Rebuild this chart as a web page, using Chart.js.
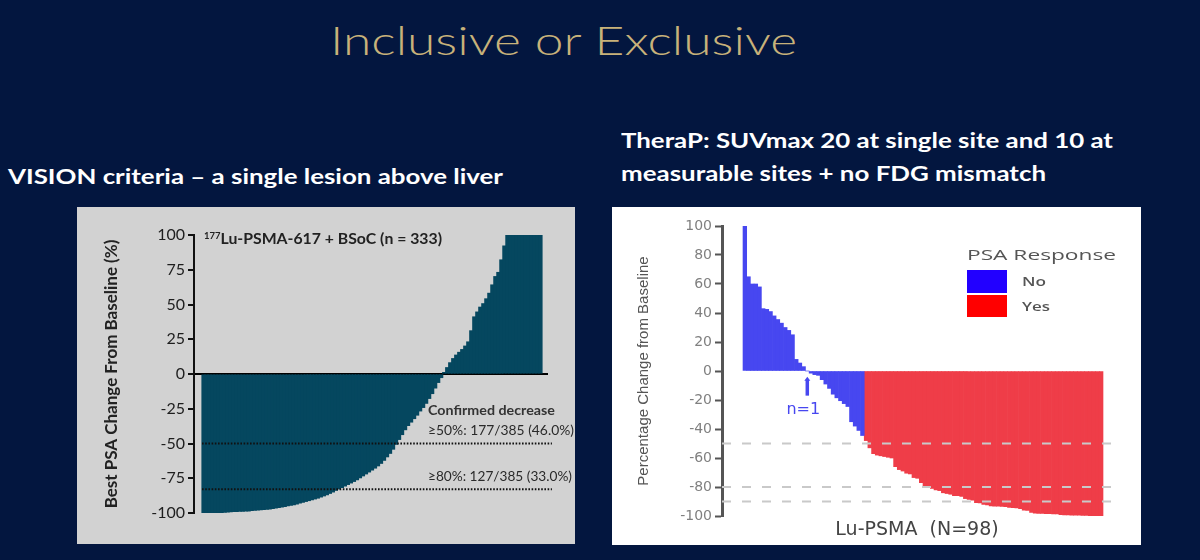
<!DOCTYPE html>
<html>
<head>
<meta charset="utf-8">
<script src="https://cdn.jsdelivr.net/npm/chart.js@4.4.0/dist/chart.umd.min.js"></script>
<style>
    html, body { margin: 0; padding: 0; }
    body { width: 1200px; height: 560px; background: #03163f; position: relative; overflow: hidden; font-family: Lato, sans-serif; }
    .txt { position: absolute; white-space: nowrap; line-height: 1; transform-origin: left center; display: inline-block; z-index: 5; }
    .panel { position: absolute; }
    canvas { position: absolute; z-index: 2; }
    #title { left: 330px; top: 20px; font-size: 40px; font-weight: 300; color: #c8b27a; }
    .sub { font-size: 21px; font-weight: bold; color: #fff; }
    .note { font-size: 14px; color: #2a2a2a; }
    .leg { font-family: "Open Sans", sans-serif; color: #555; }
    .swatch { position: absolute; z-index: 5; }
</style>
</head>
<body>

<div id="title" class="txt" data-w="467">Inclusive or Exclusive</div>
<div class="txt sub" style="left:8px; top:165px;" data-w="495">VISION criteria – a single lesion above liver</div>
<div class="txt sub" style="left:621px; top:129px;" data-w="492">TheraP: SUVmax 20 at single site and 10 at</div>
<div class="txt sub" style="left:621px; top:162px;" data-w="425">measurable sites + no FDG mismatch</div>

<!-- VISION panel -->
<div class="panel" style="left:77px; top:207px; width:498px; height:337px; background:#d2d2d2;"></div>
<canvas id="visionChart" width="498" height="337" style="left:77px; top:207px;"></canvas>
<div class="txt" style="left:204px; top:231px; font-size:15px; font-weight:bold; color:#222;" data-w="238"><sup style="font-size:9px; vertical-align:5px;">177</sup>Lu-PSMA-617 + BSoC (n = 333)</div>
<div class="txt note" style="left:428px; top:403px; font-weight:bold; color:#333;" data-w="127">Confirmed decrease</div>
<div class="txt note" style="left:428px; top:423px;" data-w="146">≥50%: 177/385 (46.0%)</div>
<div class="txt note" style="left:428px; top:469px;" data-w="144">≥80%: 127/385 (33.0%)</div>

<!-- TheraP panel -->
<div class="panel" style="left:612px; top:207px; width:529px; height:338px; background:#ffffff;"></div>
<canvas id="therapChart" width="529" height="338" style="left:612px; top:207px;"></canvas>
<div class="txt leg" style="left:967px; top:248px; font-size:14px;" data-w="149">PSA Response</div>
<div class="swatch" style="left:967px; top:270px; width:40px; height:23px; background:#2200ff;"></div>
<div class="swatch" style="left:967px; top:295px; width:40px; height:22px; background:#ff0000;"></div>
<div class="txt leg" style="left:1022px; top:275px; font-size:13px; font-weight:600;" data-w="24">No</div>
<div class="txt leg" style="left:1022px; top:300px; font-size:13px; font-weight:600;" data-w="28">Yes</div>

<script>
// VISION: best PSA change per patient, sorted (sampled along the waterfall)
const visionChange = [
    -100, -100, -99.9, -99.8, -99.7, -99.6, -99.5, -99.4, -99.2, -99,
    -98.9, -98.8, -98.7, -98.6, -98.5, -98.4, -98.2, -98, -97.8, -97.6,
    -97.4, -97.2, -97, -96.7, -96.4, -96, -95.6, -95.2, -94.8, -94.4,
    -94, -93.4, -92.8, -92.2, -91.6, -91, -90.4, -89.8, -89.2, -88.4,
    -87.6, -86.8, -85.8, -84.8, -83.6, -82.6, -81.6, -80.5, -79.4, -78.3,
    -77.2, -76, -74.6, -73.2, -71.8, -70.4, -69, -67.6, -66, -64.2,
    -62, -59.5, -57, -54, -50.5, -47, -43.5, -40, -37, -34.5,
    -32, -29.5, -26.5, -24, -21, -17.5, -14, -10, -6, -2.5,
    1, 4.5, 8, 11, 13.5, 15.5, 17.5, 20, 23, 31,
    41, 44.5, 48, 50.5, 54, 58, 64, 70, 73, 82,
    92, 100, 100, 100, 100, 100, 100, 100, 100, 100,
    100, 100, 100
];
const visionRefLines = [-50, -83];

// TheraP: percentage change, split by PSA response
const therapNo = [
    100, 65, 60, 60, 58, 43, 42.5, 41, 38, 35.5,
    33, 30, 28, 25, 8, 5.5, 3, 0, -1.5, -2.5,
    -3, -6, -9, -12, -16, -18.5, -20.5, -22.5, -24.5, -35,
    -38, -41, -44.5
];
const therapYes = [
    -48, -53, -57, -58, -58.5, -59, -59.5, -60, -66, -68,
    -69, -70.5, -71, -73.5, -74, -77, -80, -80, -81, -82,
    -82.5, -84, -84.5, -85, -86, -86, -86.5, -88, -88.5, -89,
    -90.8, -91, -92, -92.4, -93, -93.2, -93.3, -93.4, -93.6, -94,
    -94.2, -94.4, -95, -96, -96.2, -97.5, -98, -98.2, -98.3, -98.4,
    -98.4, -98.5, -98.6, -99, -99.2, -99.3, -99.4, -99.5, -99.5, -99.6,
    -99.6, -99.7, -99.8, -99.9, -100
];
const therapRefLines = [-50, -80, -90];
const therapMarkerBar = 18;   // the bar flagged "n=1"

Chart.defaults.font.family = 'Lato, sans-serif';

// Horizontal reference lines drawn on top of the bars
const refLinePlugin = {
    id: 'refLines',
    afterDatasetsDraw(chart, args, o) {
        const { ctx } = chart;
        const xs = chart.scales.x, ys = chart.scales.y;
        ctx.save();
        ctx.strokeStyle = o.color;
        ctx.lineWidth = o.width;
        ctx.setLineDash(o.dash);
        o.values.forEach(v => {
            const py = ys.getPixelForValue(v);
            ctx.beginPath();
            ctx.moveTo(xs.getPixelForValue(o.from), py);
            ctx.lineTo(xs.getPixelForValue(o.to), py);
            ctx.stroke();
        });
        ctx.restore();
    }
};

// Small arrow + "n=1" label under one bar
const markerPlugin = {
    id: 'nMarker',
    afterDatasetsDraw(chart, args, o) {
        if (!o.text) return;
        const { ctx } = chart;
        const px = chart.scales.x.getPixelForValue(o.bar);
        const y1 = chart.scales.y.getPixelForValue(o.span[0]);
        const y2 = chart.scales.y.getPixelForValue(o.span[1]);
        ctx.save();
        ctx.strokeStyle = o.color;
        ctx.fillStyle = o.color;
        ctx.lineWidth = 3.5;
        ctx.beginPath();
        ctx.moveTo(px, y1 + 3);
        ctx.lineTo(px, y2);
        ctx.stroke();
        ctx.beginPath();
        ctx.moveTo(px - 3, y1 + 4);
        ctx.lineTo(px + 3, y1 + 4);
        ctx.lineTo(px, y1);
        ctx.closePath();
        ctx.fill();
        ctx.font = '16px "DejaVu Sans", sans-serif';
        ctx.textAlign = 'center';
        ctx.textBaseline = 'middle';
        ctx.fillText(o.text, px - 4, chart.scales.y.getPixelForValue(o.textAt));
        ctx.restore();
    }
};

// VISION waterfall
const visionCtx = document.getElementById('visionChart').getContext('2d');
const visionChart = new Chart(visionCtx, {
    type: 'bar',
    data: {
        datasets: [{
            data: visionChange.map((v, i) => ({ x: i + 1, y: v })),
            backgroundColor: '#05475f',
            borderWidth: 0,
            inflateAmount: 0.6,
            barPercentage: 1,
            categoryPercentage: 1
        }]
    },
    plugins: [refLinePlugin],
    options: {
        responsive: false,
        animation: false,
        layout: { padding: { left: 20, top: 28, right: 27, bottom: 31 } },
        plugins: {
            legend: { display: false },
            tooltip: { enabled: false },
            refLines: { values: visionRefLines, from: 0.5, to: 116.8, color: '#111', width: 2, dash: [1.6, 1.6] }
        },
        scales: {
            x: { type: 'linear', display: false, offset: false, min: -2.16, max: 115.5 },
            y: {
                min: -100,
                max: 100,
                z: 1,
                ticks: { stepSize: 25, color: '#1e1e1e', font: { size: 16 }, padding: 3 },
                grid: {
                    color: c => c.tick && c.tick.value === 0 ? '#000' : 'rgba(0,0,0,0)',
                    lineWidth: 2,
                    tickColor: '#111',
                    tickLength: 6,
                    tickWidth: 2
                },
                border: { color: '#111', width: 2 },
                title: {
                    display: true,
                    text: 'Best PSA Change From Baseline (%)',
                    color: '#222',
                    font: { size: 17, weight: 'bold' },
                    padding: { top: 4, bottom: 4 }
                },
                afterFit: s => { s.width = 97; }
            }
        }
    }
});

// TheraP waterfall
const therapCtx = document.getElementById('therapChart').getContext('2d');
const therapChart = new Chart(therapCtx, {
    type: 'bar',
    data: {
        datasets: [{
            label: 'No',
            data: therapNo.map((v, i) => ({ x: i + 1, y: v })),
            backgroundColor: '#4747f0',
            borderWidth: 0,
            barPercentage: 1,
            categoryPercentage: 1,
            grouped: false
        }, {
            label: 'Yes',
            data: therapYes.map((v, i) => ({ x: therapNo.length + i + 1, y: v })),
            backgroundColor: '#ef3d48',
            borderWidth: 0,
            barPercentage: 1,
            categoryPercentage: 1,
            grouped: false
        }]
    },
    plugins: [refLinePlugin, markerPlugin],
    options: {
        responsive: false,
        animation: false,
        layout: { padding: { left: 19, top: 19, right: 29, bottom: 0 } },
        plugins: {
            legend: { display: false },
            tooltip: { enabled: false },
            refLines: { values: therapRefLines, from: -5.22, to: 100.95, color: '#c9c9c9', width: 2, dash: [9, 11] },
            nMarker: { bar: therapMarkerBar, span: [-4, -17], textAt: -26.5, text: 'n=1', color: '#4747f0' }
        },
        scales: {
            x: {
                type: 'linear',
                offset: false,
                min: -5.22,
                max: 100.95,
                ticks: { display: false },
                grid: { display: false },
                border: { display: false },
                title: {
                    display: true,
                    text: 'Lu-PSMA  (N=98)',
                    color: '#444',
                    font: { family: '"DejaVu Sans", sans-serif', size: 19 },
                    padding: { top: 4, bottom: 4 }
                },
                afterFit: s => { s.height = 29; }
            },
            y: {
                min: -100,
                max: 100,
                ticks: { stepSize: 20, color: '#808080', font: { family: '"DejaVu Sans", sans-serif', size: 14 }, padding: 3 },
                grid: { drawOnChartArea: false, tickColor: '#555', tickLength: 7, tickWidth: 2 },
                border: { color: '#555', width: 3 },
                title: {
                    display: true,
                    text: 'Percentage Change from Baseline',
                    color: '#555',
                    font: { family: '"Liberation Sans", Arial, sans-serif', size: 15 },
                    padding: { top: 4, bottom: 4 }
                },
                afterFit: s => { s.width = 91; }
            }
        }
    }
});

// Stretch overlay texts to the widths seen on the slide
function fitText() {
    document.querySelectorAll('[data-w]').forEach(el => {
        el.style.transform = 'none';
        const w = el.getBoundingClientRect().width;
        if (w > 0) el.style.transform = `scaleX(${el.dataset.w / w})`;
    });
}
fitText();
document.fonts.ready.then(fitText);
</script>
</body>
</html>
